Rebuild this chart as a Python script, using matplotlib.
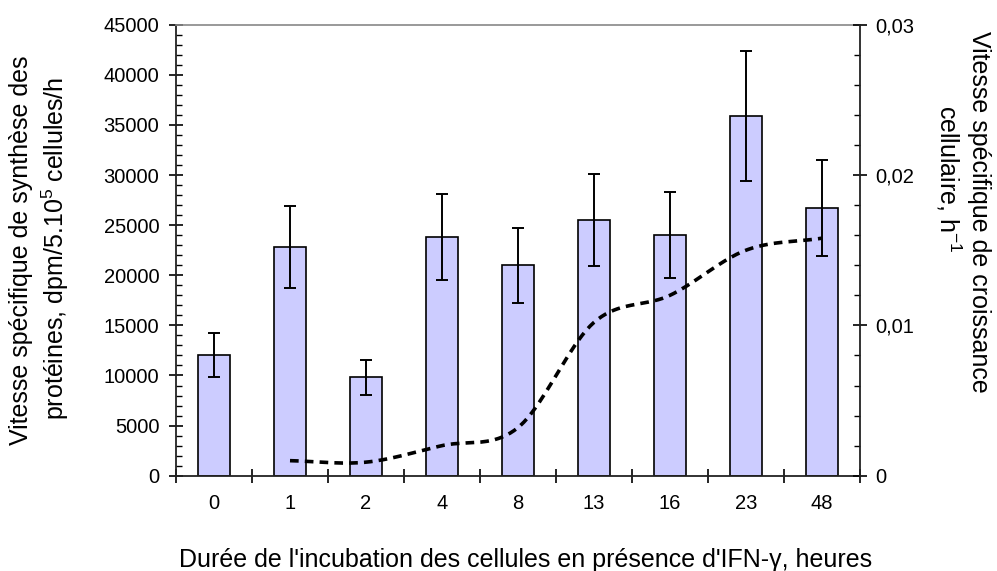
import numpy as np
import matplotlib
matplotlib.use("Agg")
import matplotlib.pyplot as plt
from matplotlib.ticker import MultipleLocator, FixedLocator, NullFormatter

plt.rcParams["font.family"] = ["Liberation Sans", "DejaVu Sans"]
plt.rcParams["mathtext.fontset"] = "custom"
plt.rcParams["mathtext.rm"] = "Liberation Sans"
plt.rcParams["mathtext.it"] = "Liberation Sans:italic"
plt.rcParams["mathtext.bf"] = "Liberation Sans:bold"

# Incubation time categories (hours)
hours = ["0", "1", "2", "4", "8", "13", "16", "23", "48"]
# Protein synthesis rate, dpm/5.10^5 cells/h
synthesis = [12000, 22800, 9800, 23800, 21000, 25500, 24000, 35900, 26700]
synthesis_err = [2200, 4100, 1700, 4300, 3750, 4600, 4300, 6500, 4780]
# Specific growth rate, h^-1 (no value at 0 h)
growth = [np.nan, 0.0010, 0.0009, 0.0020, 0.0032, 0.0102, 0.0120, 0.0150, 0.0158]

FS_TICK = 14.5
FS_TITLE = 18

fig = plt.figure(figsize=(9.97, 5.71), dpi=100)
W, H = 997, 571
left, right, top, bottom = 176, 860, 24.7, 475.7
ax = fig.add_axes([left / W, (H - bottom) / H, (right - left) / W, (bottom - top) / H])

x = np.arange(len(hours))
ax.bar(x, synthesis, width=0.42, color="#CCCCFF", edgecolor="black", linewidth=1.2, zorder=2)
ax.errorbar(x, synthesis, yerr=synthesis_err, fmt="none", ecolor="black",
            elinewidth=1.4, capsize=4.5, capthick=1.4, zorder=3)

ax.set_xlim(-0.5, len(hours) - 0.5)
ax.set_ylim(0, 45000)
ax.yaxis.set_major_locator(MultipleLocator(5000))
ax.yaxis.set_minor_locator(MultipleLocator(1000))
ax.set_xticks(x)
ax.set_xticklabels(hours, fontsize=FS_TICK)
ax.xaxis.set_minor_locator(FixedLocator(np.arange(-0.5, len(hours), 1.0)))
ax.xaxis.set_minor_formatter(NullFormatter())
ax.tick_params(axis="x", which="major", length=0, pad=13)
ax.tick_params(axis="x", which="minor", direction="inout", length=10, width=1.2)
ax.tick_params(axis="y", which="major", direction="inout", length=10, width=1.2,
               labelsize=FS_TICK, pad=7)
ax.tick_params(axis="y", which="minor", direction="in", length=4, width=1.0)
ax.set_yticklabels([f"{int(v)}" for v in ax.get_yticks()])

for s in ("left", "bottom"):
    ax.spines[s].set_color("#222222")
    ax.spines[s].set_linewidth(1.3)
ax.spines["top"].set_color("#888888")
ax.spines["top"].set_linewidth(1.2)
ax.spines["right"].set_visible(False)

# Secondary axis: growth rate drawn as a smoothed dashed curve
ax2 = ax.twinx()
ax2.set_ylim(0, 0.03)
ax2.yaxis.set_major_locator(MultipleLocator(0.01))
ax2.yaxis.set_minor_locator(MultipleLocator(0.002))
ax2.set_yticks([0, 0.01, 0.02, 0.03])
ax2.set_yticklabels(["0", "0,01", "0,02", "0,03"], fontsize=FS_TICK)
ax2.tick_params(axis="y", which="major", direction="inout", length=10, width=1.2, pad=6)
ax2.tick_params(axis="y", which="minor", direction="in", length=4, width=1.0)
for s in ("left", "top", "bottom"):
    ax2.spines[s].set_visible(False)
ax2.spines["right"].set_color("#222222")
ax2.spines["right"].set_linewidth(1.3)


def catmull_rom(px, py, n=40):
    px = np.asarray(px, float)
    py = np.asarray(py, float)
    xs, ys = [], []
    k = len(px)
    for i in range(k - 1):
        p0 = py[i - 1] if i > 0 else py[i]
        p3 = py[i + 2] if i + 2 < k else py[i + 1]
        p1, p2 = py[i], py[i + 1]
        m1 = (p2 - p0) / (2 if i > 0 else 1)
        m2 = (p3 - p1) / (2 if i + 2 < k else 1)
        t = np.linspace(0, 1, n)
        h00 = 2 * t**3 - 3 * t**2 + 1
        h10 = t**3 - 2 * t**2 + t
        h01 = -2 * t**3 + 3 * t**2
        h11 = t**3 - t**2
        xs.append(px[i] + t * (px[i + 1] - px[i]))
        ys.append(h00 * p1 + h10 * m1 + h01 * p2 + h11 * m2)
    return np.concatenate(xs), np.concatenate(ys)


g = np.array(growth)
valid = ~np.isnan(g)
sx, sy = catmull_rom(x[valid], g[valid])
ax2.plot(sx, sy, color="black", linewidth=2.6, dashes=(2.4, 1.7),
         dash_capstyle="butt", zorder=4)

# Axis titles
fig.text(526 / W, 1 - 567 / H,
         "Durée de l'incubation des cellules en présence d'IFN-γ, heures",
         ha="center", va="baseline", fontsize=FS_TITLE)
fig.text(21 / W, 1 - 250 / H, "Vitesse spécifique de synthèse des",
         rotation=90, ha="center", va="center", fontsize=FS_TITLE)
fig.text(55 / W, 1 - 248 / H, "protéines, dpm/5.10$^{5}$ cellules/h",
         rotation=90, ha="center", va="center", fontsize=FS_TITLE)
fig.text(979 / W, 1 - 212 / H, "Vitesse spécifique de croissance",
         rotation=270, ha="center", va="center", fontsize=FS_TITLE)
fig.text(949 / W, 1 - 179 / H, "cellulaire, h$^{-1}$",
         rotation=270, ha="center", va="center", fontsize=FS_TITLE)

fig.savefig("out.png", dpi=100)
